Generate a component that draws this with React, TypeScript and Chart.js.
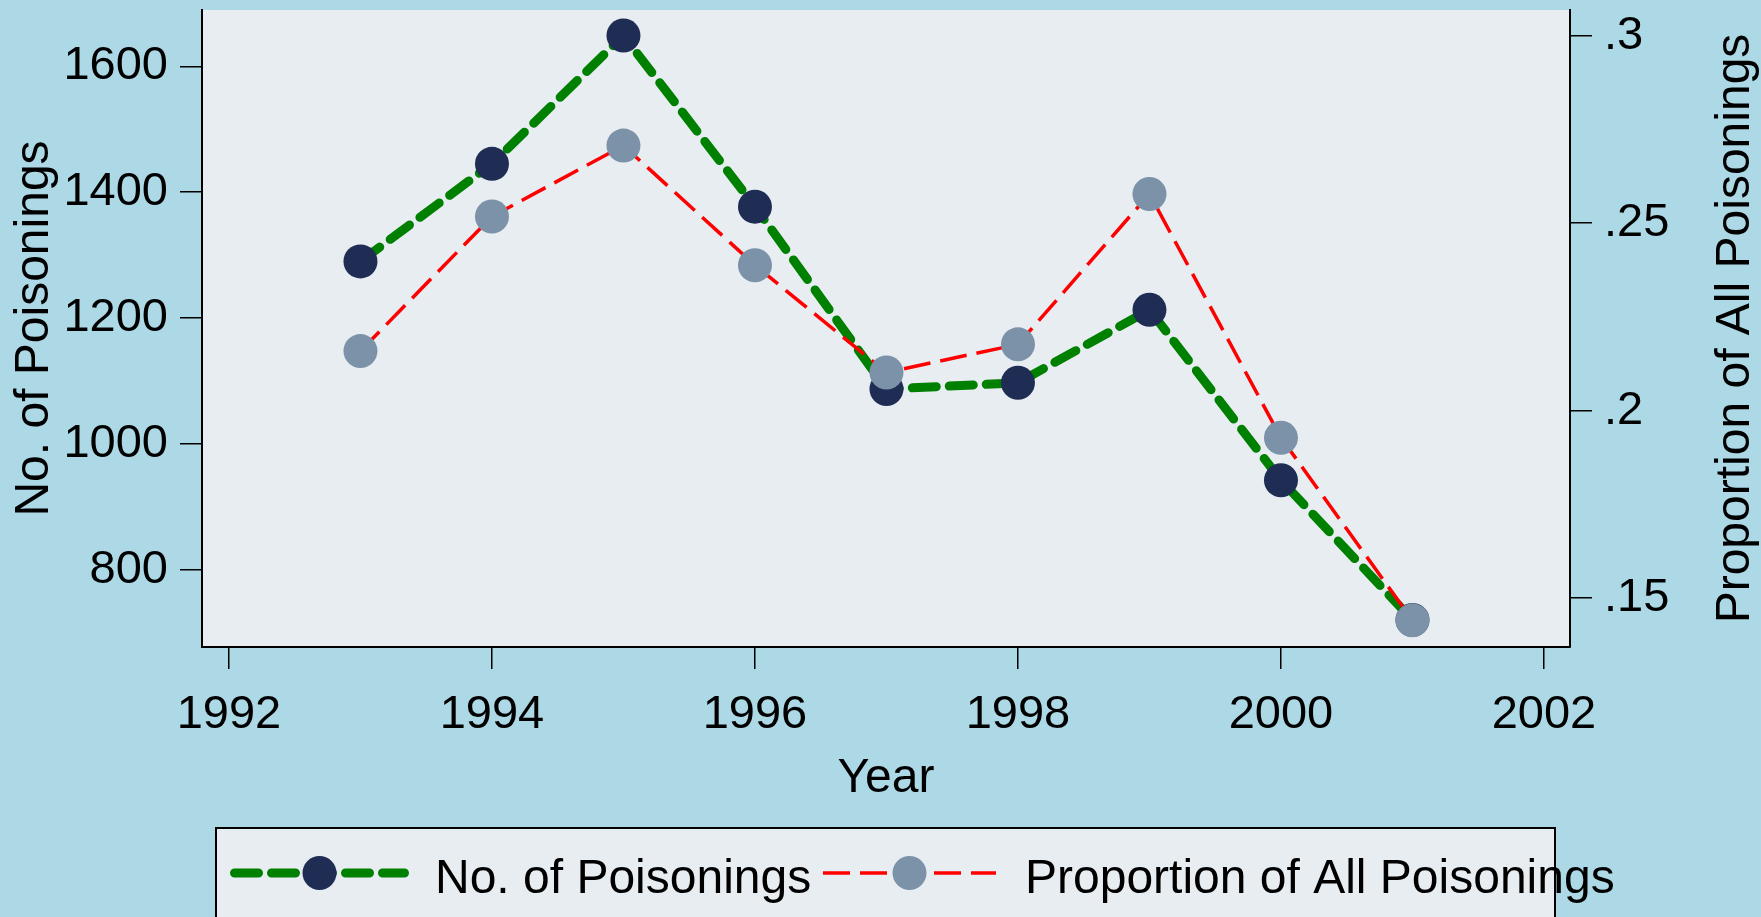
import React, { useEffect, useRef } from "react";
import { Chart, registerables } from "chart.js";

Chart.register(...registerables);

// ---- data ----
const years = [1993, 1994, 1995, 1996, 1997, 1998, 1999, 2000, 2001];
const poisonings = [1290, 1445, 1649, 1377, 1087, 1097, 1213, 942, 720];
const proportion = [0.2159, 0.2518, 0.2707, 0.2388, 0.2102, 0.2177, 0.2578, 0.1928, 0.1441];

const xTicks = [1992, 1994, 1996, 1998, 2000, 2002];
const leftTicks = [800, 1000, 1200, 1400, 1600];
const rightTicks = [0.15, 0.2, 0.25, 0.3];

const seriesLabels = ["No. of Poisonings", "Proportion of All Poisonings"];
const xTitle = "Year";
const leftTitle = "No. of Poisonings";
const rightTitle = "Proportion of All Poisonings";

const FONT = "'Liberation Sans', Arial, Helvetica, sans-serif";
const BG = "#ADD8E6";
const PLOT_BG = "#E8EDF1";

export default function App() {
  const ref = useRef<HTMLCanvasElement | null>(null);

  useEffect(() => {
    document.body.style.margin = "0";
    const canvas = ref.current;
    if (!canvas) return;

    const bgPlugin = {
      id: "bgPlugin",
      beforeDraw(chart: any) {
        const { ctx, chartArea } = chart;
        ctx.save();
        ctx.fillStyle = BG;
        ctx.fillRect(0, 0, chart.width, chart.height);
        ctx.fillStyle = PLOT_BG;
        ctx.fillRect(chartArea.left, chartArea.top, chartArea.right - chartArea.left, chartArea.bottom - chartArea.top);
        ctx.restore();
      },
    };

    const extrasPlugin = {
      id: "extrasPlugin",
      afterDraw(chart: any) {
        const { ctx } = chart;
        ctx.save();
        // right axis title (reads bottom to top)
        const midY = (chart.chartArea.top + chart.chartArea.bottom) / 2;
        ctx.translate(1749, midY);
        ctx.rotate(-Math.PI / 2);
        ctx.font = `48px ${FONT}`;
        ctx.fillStyle = "#000";
        ctx.textAlign = "center";
        ctx.textBaseline = "alphabetic";
        ctx.fillText(rightTitle, 0, 0);
        ctx.restore();

        // legend
        ctx.save();
        const boxL = 216, boxT = 828, boxR = 1555, boxB = 1000;
        ctx.fillStyle = PLOT_BG;
        ctx.fillRect(boxL, boxT, boxR - boxL, boxB - boxT);
        const items = [
          { x0: 230, x1: 409, tx: 435 },
          { x0: 823, x1: 996, tx: 1025 },
        ];
        const cy = 873;
        chart.data.datasets.forEach((ds: any, i: number) => {
          const it = items[i];
          ctx.save();
          ctx.strokeStyle = ds.borderColor;
          ctx.lineWidth = ds.borderWidth;
          ctx.lineCap = ds.borderCapStyle;
          ctx.setLineDash(ds.borderDash);
          ctx.beginPath();
          ctx.moveTo(it.x0 + (ds.borderCapStyle === "round" ? ds.borderWidth / 2 : 0), cy);
          ctx.lineTo(it.x1 - (ds.borderCapStyle === "round" ? ds.borderWidth / 2 : 0), cy);
          ctx.stroke();
          ctx.setLineDash([]);
          ctx.fillStyle = ds.pointBackgroundColor;
          ctx.beginPath();
          ctx.arc((it.x0 + it.x1) / 2, cy, ds.pointRadius, 0, Math.PI * 2);
          ctx.fill();
          ctx.restore();
          ctx.font = `48px ${FONT}`;
          ctx.fillStyle = "#000";
          ctx.textAlign = "left";
          ctx.textBaseline = "alphabetic";
          ctx.fillText(ds.label, it.tx, 893);
        });
        ctx.strokeStyle = "#000";
        ctx.lineWidth = 2;
        ctx.strokeRect(boxL, boxT, boxR - boxL, boxB - boxT);
        ctx.restore();
      },
    };

    const chart = new Chart(canvas, {
      type: "line",
      data: {
        datasets: [
          {
            label: seriesLabels[0],
            data: years.map((y, i) => ({ x: y, y: poisonings[i] })),
            yAxisID: "y",
            borderColor: "#008000",
            borderWidth: 9,
            borderDash: [24, 13],
            borderCapStyle: "round",
            borderJoinStyle: "round",
            pointRadius: 17,
            pointBorderWidth: 0,
            pointBackgroundColor: "#1F2D54",
            pointBorderColor: "#1F2D54",
            tension: 0,
            order: 1,
          },
          {
            label: seriesLabels[1],
            data: years.map((y, i) => ({ x: y, y: proportion[i] })),
            yAxisID: "y2",
            borderColor: "#FF0000",
            borderWidth: 3.5,
            borderDash: [27, 10],
            borderCapStyle: "butt",
            pointRadius: 17,
            pointBorderWidth: 0,
            pointBackgroundColor: "#7B92A8",
            pointBorderColor: "#7B92A8",
            tension: 0,
            order: 0,
          },
        ],
      },
      options: {
        animation: false,
        responsive: false,
        devicePixelRatio: 1,
        layout: { autoPadding: false, padding: { top: 10, left: 0, right: 0, bottom: 0 } },
        plugins: {
          legend: { display: false },
          tooltip: { enabled: false },
          title: { display: false },
        },
        scales: {
          x: {
            type: "linear",
            position: "bottom",
            min: 1991.795,
            max: 2002.198,
            afterBuildTicks: (s: any) => {
              s.ticks = xTicks.map((v) => ({ value: v }));
            },
            afterFit: (s: any) => {
              s.height = 270;
              s.paddingLeft = 0;
              s.paddingRight = 0;
            },
            ticks: {
              autoSkip: false,
              maxRotation: 0,
              padding: 18,
              color: "#000",
              font: { size: 47, family: FONT },
              callback: (v: any) => String(v),
            },
            grid: {
              drawOnChartArea: false,
              drawTicks: true,
              tickLength: 22,
              color: "#000",
              lineWidth: 1.5,
            },
            border: { display: true, color: "#000", width: 2 },
            title: {
              display: true,
              text: xTitle,
              color: "#000",
              font: { size: 48, family: FONT },
              padding: { top: 0, bottom: 109 },
            },
          },
          y: {
            type: "linear",
            position: "left",
            min: 677,
            max: 1689.6,
            afterBuildTicks: (s: any) => {
              s.ticks = leftTicks.map((v) => ({ value: v }));
            },
            afterFit: (s: any) => {
              s.width = 202;
              s.paddingTop = 0;
              s.paddingBottom = 0;
            },
            ticks: {
              padding: 12,
              color: "#000",
              font: { size: 47, family: FONT },
              callback: (v: any) => String(v),
            },
            grid: {
              drawOnChartArea: false,
              drawTicks: true,
              tickLength: 22,
              color: "#000",
              lineWidth: 1.5,
            },
            border: { display: true, color: "#000", width: 2 },
            title: {
              display: true,
              text: leftTitle,
              color: "#000",
              font: { size: 48, family: FONT },
              padding: { top: 6, bottom: 0 },
            },
          },
          y2: {
            type: "linear",
            position: "right",
            min: 0.13699,
            max: 0.30686,
            afterBuildTicks: (s: any) => {
              s.ticks = rightTicks.map((v) => ({ value: v }));
            },
            afterFit: (s: any) => {
              s.width = 191;
              s.paddingTop = 0;
              s.paddingBottom = 0;
            },
            ticks: {
              padding: 12,
              color: "#000",
              font: { size: 47, family: FONT },
              callback: (v: any) => String(v).replace(/^0/, ""),
            },
            grid: {
              drawOnChartArea: false,
              drawTicks: true,
              tickLength: 22,
              color: "#000",
              lineWidth: 1.5,
            },
            border: { display: true, color: "#000", width: 2 },
            title: { display: false },
          },
        },
      },
      plugins: [bgPlugin, extrasPlugin],
    } as any);

    return () => chart.destroy();
  }, []);

  return (
    <div style={{ width: 1761, height: 917, overflow: "hidden" }}>
      <canvas ref={ref} width={1761} height={917} style={{ display: "block" }} />
    </div>
  );
}
